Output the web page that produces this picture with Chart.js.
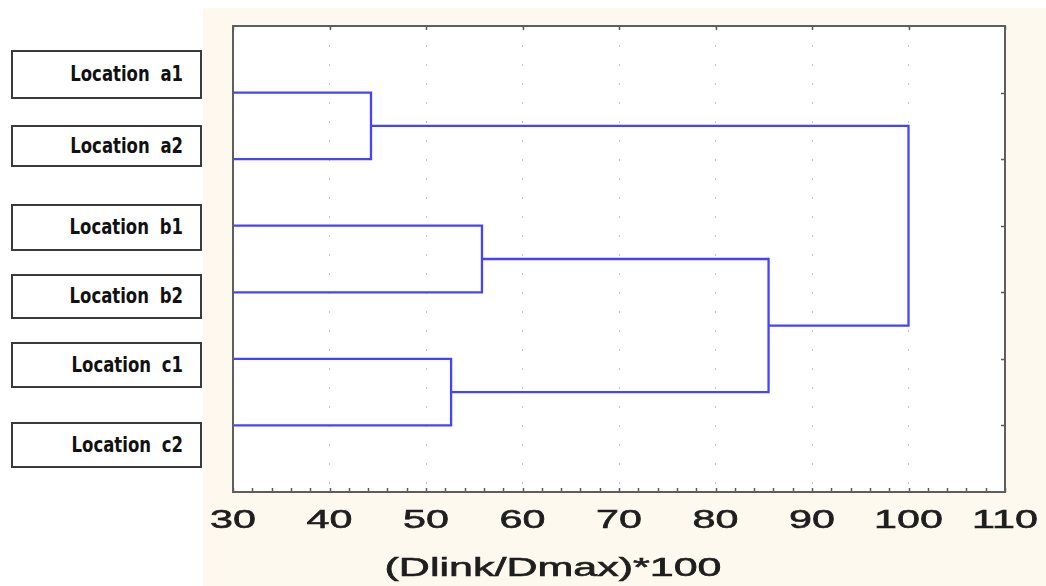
<!DOCTYPE html>
<html>
<head>
<meta charset="utf-8">
<script src="https://cdn.jsdelivr.net/npm/chart.js@4"></script>
<style>
    html, body { margin: 0; padding: 0; background: #fff; }
    #wrap { position: relative; width: 1046px; height: 586px; overflow: hidden; background: #fff; }
    #cream { position: absolute; left: 203px; top: 8px; right: 0; bottom: 0; background: #fef9ee; }
    #chart { position: absolute; left: 0; top: 0; }
    .loc {
        position: absolute; left: 11px; width: 191px;
        border: 2px solid #3a3a3a; background: #fff; box-sizing: border-box;
        display: flex; align-items: center; justify-content: flex-end;
        padding-right: 17px;
        font-family: "DejaVu Sans", sans-serif; font-weight: bold; font-size: 16.5px;
        word-spacing: 5px; color: #111;
    }
    .loc span { display: inline-block; transform: scaleY(1.25); }
</style>
</head>
<body>
<div id="wrap">
    <div id="cream"></div>
    <div id="labels"></div>
    <canvas id="chart" width="1046" height="586"></canvas>
</div>
<script>
// ---- data ----
const leafLabels = ['Location a1', 'Location a2', 'Location b1', 'Location b2', 'Location c1', 'Location c2'];
const leafPositions = [1, 2, 3, 4, 5, 6];
const xTicks = [30, 40, 50, 60, 70, 80, 90, 100, 110];
const axisTitle = '(Dlink/Dmax)*100';

// one entry per merge: the U drawn between a lower and an upper child
const linkNames = ['a1-a2', 'b1-b2', 'c1-c2', 'b-c', 'a-bc'];
const linkHeights = [44.3, 55.8, 52.6, 85.5, 100];
const linkLowerY = [1, 3, 5, 3.5, 1.5];
const linkUpperY = [2, 4, 6, 5.5, 4.5];
const linkLowerStart = [30, 30, 30, 55.8, 44.3];
const linkUpperStart = [30, 30, 30, 52.6, 85.5];

// ---- label boxes (layout only) ----
const boxTops = [50, 125, 204, 274, 342, 422];
const boxHeights = [49, 42, 47, 45, 46, 46];
const labelsEl = document.getElementById('labels');
leafLabels.forEach((name, i) => {
    const d = document.createElement('div');
    d.className = 'loc';
    d.style.top = boxTops[i] + 'px';
    d.style.height = boxHeights[i] + 'px';
    d.innerHTML = '<span>' + name + '</span>';
    labelsEl.appendChild(d);
});

const datasets = linkNames.map((name, i) => ({
    label: name,
    data: [
        { x: linkLowerStart[i], y: linkLowerY[i] },
        { x: linkHeights[i], y: linkLowerY[i] },
        { x: linkHeights[i], y: linkUpperY[i] },
        { x: linkUpperStart[i], y: linkUpperY[i] }
    ],
    borderColor: '#4444ff',
    borderWidth: 2.3,
    pointRadius: 0,
    fill: false,
    tension: 0
}));

// frame, small tick marks and stretched axis text
const framePlugin = {
    id: 'frame',
    beforeDraw(chart) {
        const { ctx, chartArea: a } = chart;
        ctx.save();
        ctx.fillStyle = '#ffffff';
        ctx.fillRect(a.left, a.top, a.right - a.left, a.bottom - a.top);
        ctx.restore();
    },
    afterDraw(chart) {
        const { ctx, chartArea: a } = chart;
        const xs = chart.scales.x, ys = chart.scales.y;
        ctx.save();
        ctx.strokeStyle = '#5a5a5a';
        ctx.lineWidth = 1.5;
        ctx.beginPath();
        // bottom minor ticks every 2 units
        for (let v = xTicks[0]; v <= xTicks[xTicks.length - 1]; v += 2) {
            const px = Math.round(xs.getPixelForValue(v)) + 0.5;
            ctx.moveTo(px, a.bottom);
            ctx.lineTo(px, a.bottom - 4);
        }
        // top ticks at the majors
        xTicks.forEach(v => {
            const px = Math.round(xs.getPixelForValue(v)) + 0.5;
            ctx.moveTo(px, a.top);
            ctx.lineTo(px, a.top + 4);
        });
        // right ticks at the leaves
        leafPositions.forEach(v => {
            const py = Math.round(ys.getPixelForValue(v)) + 0.5;
            ctx.moveTo(a.right, py);
            ctx.lineTo(a.right - 4, py);
        });
        ctx.stroke();

        ctx.strokeStyle = '#5e5e5e';
        ctx.lineWidth = 2;
        ctx.strokeRect(a.left, a.top, a.right - a.left, a.bottom - a.top);

        ctx.fillStyle = '#1e1e1e';
        ctx.strokeStyle = '#1e1e1e';
        ctx.lineWidth = 0.6;
        ctx.font = '25px "Liberation Sans", Arial, sans-serif';
        ctx.textAlign = 'center';
        ctx.textBaseline = 'middle';
        xs.ticks.forEach(t => {
            ctx.save();
            ctx.translate(xs.getPixelForValue(t.value), a.bottom + 29);
            ctx.scale(1.65, 1);
            ctx.fillText(String(t.value), 0, 0);
            ctx.strokeText(String(t.value), 0, 0);
            ctx.restore();
        });
        ctx.save();
        ctx.translate(a.left + 320, a.bottom + 77);
        ctx.scale(1.72, 1);
        ctx.fillText(axisTitle, 0, 0);
        ctx.strokeText(axisTitle, 0, 0);
        ctx.restore();
        ctx.restore();
    }
};

new Chart(document.getElementById('chart').getContext('2d'), {
    type: 'line',
    data: { datasets: datasets },
    options: {
        responsive: false,
        animation: false,
        events: [],
        layout: { padding: { left: 233, top: 26, right: 41, bottom: 94 } },
        plugins: { legend: { display: false }, tooltip: { enabled: false } },
        scales: {
            x: {
                type: 'linear',
                min: 30,
                max: 110,
                afterBuildTicks: scale => { scale.ticks = xTicks.map(v => ({ value: v })); },
                ticks: { display: false },
                grid: { color: '#c4c4c4', lineWidth: 1, drawTicks: false },
                border: { display: false, dash: [2, 17] }
            },
            y: {
                type: 'linear',
                min: 0,
                max: 7,
                reverse: true,
                ticks: { display: false },
                grid: { display: false, drawTicks: false },
                border: { display: false }
            }
        }
    },
    plugins: [framePlugin]
});
</script>
</body>
</html>
